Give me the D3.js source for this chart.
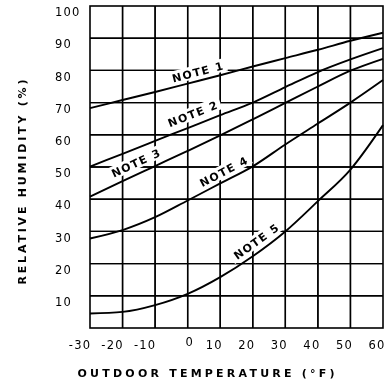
<!DOCTYPE html>
<html>
<head>
<meta charset="utf-8">
<script src="https://cdn.jsdelivr.net/npm/d3@7/dist/d3.min.js"></script>
<style>
  html, body { margin: 0; padding: 0; background: #fff; }
  #wrap { position: relative; width: 390px; height: 381px; }
  #wrap canvas, #wrap svg { position: absolute; left: 0; top: 0; display: block; }
</style>
</head>
<body>
<div id="wrap">
  <canvas id="gridCanvas" width="390" height="381"></canvas>
  <svg id="chart" width="390" height="381"></svg>
</div>
<script>
// Outdoor temperature (°F) at which each curve is sampled
const temps = [-30, -20, -10, 0, 10, 20, 30, 40, 50, 60];

// Recommended maximum indoor relative humidity (%) for each note
const note1 = [68.3, 70.8, 73.3, 75.9, 78.5, 81.2, 83.8, 86.4, 89.2, 91.7];
const note2 = [50.1, 54.1, 58.1, 62.1, 66.1, 70.0, 74.8, 79.5, 83.4, 86.9];
const note3 = [40.8, 45.6, 50.3, 55.0, 59.8, 64.8, 69.9, 75.0, 79.9, 83.6];
const note4 = [27.8, 30.4, 34.4, 39.6, 44.9, 50.2, 57.0, 63.5, 70.0, 77.0];
const note5 = [4.5, 5.0, 7.1, 10.6, 15.8, 22.3, 30.0, 39.4, 49.2, 63.0];

const noteNames = ["NOTE 1", "NOTE 2", "NOTE 3", "NOTE 4", "NOTE 5"];

// Axis ticks
const xTicks = [-30, -20, -10, 0, 10, 20, 30, 40, 50, 60];
const yTicks = [0, 10, 20, 30, 40, 50, 60, 70, 80, 90, 100];
const yLabels = yTicks.slice(1);

const svg = d3.select("#chart");
const FONT = "'DejaVu Sans', Verdana, sans-serif";

const x = d3.scaleLinear().domain([-30, 60]).range([90, 383]);
const y = d3.scaleLinear().domain([0, 100]).range([328, 6]);

const series = [note1, note2, note3, note4, note5];

// Grid on the canvas underneath the SVG
const ctx = document.getElementById("gridCanvas").getContext("2d");
ctx.fillStyle = "#fff";
ctx.fillRect(0, 0, 390, 381);
ctx.strokeStyle = "#000";
ctx.lineWidth = 1.4;
ctx.beginPath();
xTicks.slice(1, -1).forEach(t => {
  ctx.moveTo(x(t), y(0));
  ctx.lineTo(x(t), y(100));
});
yTicks.slice(1, -1).forEach(v => {
  ctx.moveTo(x(-30), y(v));
  ctx.lineTo(x(60), y(v));
});
ctx.stroke();

// The same grid in the SVG, one short segment per cell edge
const segments = [];
xTicks.slice(1, -1).forEach(t => {
  d3.pairs(yTicks).forEach(([a, b]) => segments.push([[t, a], [t, b]]));
});
yTicks.slice(1, -1).forEach(v => {
  d3.pairs(xTicks).forEach(([a, b]) => segments.push([[a, v], [b, v]]));
});
const seg = d3.line().x(d => x(d[0])).y(d => y(d[1]));
svg.append("g").selectAll("path").data(segments).join("path")
  .attr("d", d => seg(d))
  .attr("fill", "none")
  .attr("stroke", "#000")
  .attr("stroke-width", 1.4);

// White patches behind the curve labels break the grid
const labelPlace = [
  { t: 3,   lift: 9 },
  { t: 1.5, lift: 12 },
  { t: -16, lift: 12 },
  { t: 11,  lift: 10 },
  { t: 21,  lift: 12 }
];

function valueAt(vals, t) {
  return d3.scaleLinear().domain(temps).range(vals)(t);
}

const labels = series.map((vals, k) => {
  const p = labelPlace[k];
  const x0 = x(p.t - 4), x1 = x(p.t + 4);
  const y0 = y(valueAt(vals, p.t - 4)), y1 = y(valueAt(vals, p.t + 4));
  return {
    name: noteNames[k],
    ang: Math.atan2(y1 - y0, x1 - x0) * 180 / Math.PI,
    cx: x(p.t),
    cy: y(valueAt(vals, p.t)) - p.lift
  };
});
const LW = 52;

svg.append("g").selectAll("rect").data(labels).join("rect")
  .attr("x", -LW / 2 - 4).attr("y", -7).attr("width", LW + 8).attr("height", 13)
  .attr("fill", "#fff")
  .attr("transform", d => `translate(${d.cx},${d.cy}) rotate(${d.ang})`);

// Curves
const curve = d3.line()
  .x((d, i) => x(temps[i]))
  .y(d => y(d))
  .curve(d3.curveMonotoneX);

svg.append("g").selectAll("path").data(series).join("path")
  .attr("d", d => curve(d))
  .attr("fill", "none")
  .attr("stroke", "#000")
  .attr("stroke-width", 1.9);

// Curve labels
svg.append("g").selectAll("text").data(labels).join("text")
  .attr("transform", d => `translate(${d.cx},${d.cy}) rotate(${d.ang})`)
  .attr("text-anchor", "middle")
  .attr("dy", "0.36em")
  .attr("font-family", FONT)
  .attr("font-size", 11)
  .attr("font-weight", 600)
  .attr("textLength", LW)
  .attr("lengthAdjust", "spacing")
  .attr("fill", "#000")
  .text(d => d.name);

// Plot frame
svg.append("rect")
  .attr("x", x(-30)).attr("y", y(100))
  .attr("width", x(60) - x(-30)).attr("height", y(0) - y(100))
  .attr("fill", "none").attr("stroke", "#000").attr("stroke-width", 1.6);

// Y tick labels
svg.append("g").selectAll("text").data(yLabels).join("text")
  .attr("x", 55)
  .attr("y", d => y(d) + 6)
  .attr("dy", "0.36em")
  .attr("font-family", FONT)
  .attr("font-size", 11.5)
  .attr("letter-spacing", 1.2)
  .attr("fill", "#000")
  .text(d => d);

// X tick labels
svg.append("g").selectAll("text").data(xTicks).join("text")
  .attr("x", d => x(d) + (d < 0 ? -10 : d === 0 ? 2 : -6))
  .attr("y", d => d === 0 ? 342 : 345)
  .attr("dy", "0.36em")
  .attr("text-anchor", "middle")
  .attr("font-family", FONT)
  .attr("font-size", 11.5)
  .attr("letter-spacing", 1.2)
  .attr("fill", "#000")
  .text(d => d);

// Axis titles
svg.append("text")
  .attr("x", 206).attr("y", 373)
  .attr("dy", "0.36em")
  .attr("text-anchor", "middle")
  .attr("font-family", FONT)
  .attr("font-weight", "bold")
  .attr("font-size", 11)
  .attr("textLength", 257)
  .attr("lengthAdjust", "spacing")
  .attr("fill", "#000")
  .text("OUTDOOR TEMPERATURE (°F)");

svg.append("text")
  .attr("transform", "translate(22,182) rotate(-90)")
  .attr("dy", "0.36em")
  .attr("text-anchor", "middle")
  .attr("font-family", FONT)
  .attr("font-weight", "bold")
  .attr("font-size", 11)
  .attr("textLength", 205)
  .attr("lengthAdjust", "spacing")
  .attr("fill", "#000")
  .text("RELATIVE HUMIDITY (%)");
</script>
</body>
</html>
